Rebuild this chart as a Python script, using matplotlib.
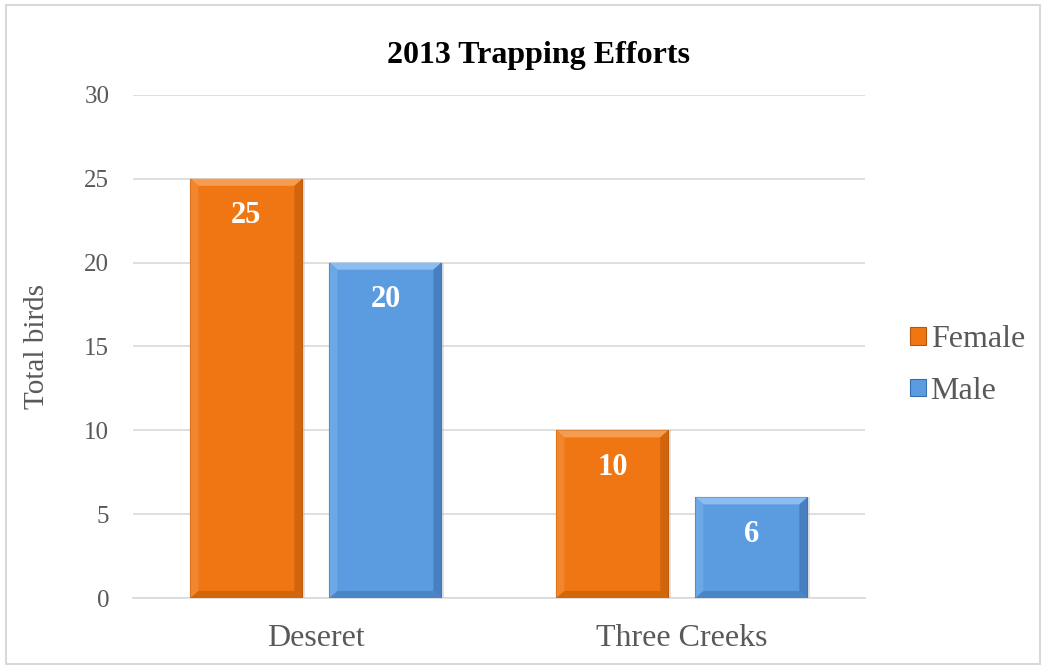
import matplotlib.pyplot as plt
import numpy as np
from matplotlib.patches import Rectangle, Polygon

# Birds trapped per site, split by sex
sites = ["Deseret", "Three Creeks"]
female = [25, 10]
male = [20, 6]
y_ticks = [0, 5, 10, 15, 20, 25, 30]

plt.rcParams["font.family"] = ["Liberation Serif", "DejaVu Serif"]

GRAY = "#595959"
# face, top bevel, left bevel, right bevel, bottom bevel, outline
ORANGE = ("#F07613", "#F59C50", "#F2862E", "#D0650D", "#D26609", "#B85508")
BLUE = ("#5B9BE0", "#8BBDF0", "#6CA7E6", "#477FC0", "#4A85C8", "#3A6FAE")


def bevel_bar(ax, xc, h, w, colors, bx=0.022, by=0.42):
    """Bar with a simple bevelled look built from its own geometry."""
    face, top, left, right, bottom, edge = colors
    x0, x1 = xc - w / 2, xc + w / 2
    ax.add_patch(Rectangle((x0 + 0.006, 0), w, h, facecolor="#BFBFBF", alpha=0.45,
                           linewidth=0, zorder=2))
    ax.add_patch(Rectangle((x0, 0), w, h, facecolor=face, edgecolor=edge,
                           linewidth=0.8, zorder=3))
    pieces = [
        ([(x0, h), (x1, h), (x1 - bx, h - by), (x0 + bx, h - by)], top),
        ([(x0, 0), (x0, h), (x0 + bx, h - by), (x0 + bx, by)], left),
        ([(x1, 0), (x1, h), (x1 - bx, h - by), (x1 - bx, by)], right),
        ([(x0, 0), (x1, 0), (x1 - bx, by), (x0 + bx, by)], bottom),
    ]
    for pts, c in pieces:
        ax.add_patch(Polygon(pts, closed=True, facecolor=c, linewidth=0, zorder=4))


def main():
    fig = plt.figure(figsize=(10.42, 6.66), dpi=100)
    ax = fig.add_axes([0.1276, 0.1021, 0.7024, 0.7553])

    # chart border
    fig.patches.append(Rectangle((0.006, 0.003), 0.992, 0.990, transform=fig.transFigure,
                                 fill=False, edgecolor="#D9D9D9", linewidth=1.5))

    x = np.arange(len(sites))
    width = 0.306
    offset = 0.19

    for xi, v in zip(x, female):
        bevel_bar(ax, xi - offset, v, width, ORANGE)
    for xi, v in zip(x, male):
        bevel_bar(ax, xi + offset, v, width, BLUE)

    for sign, vals in ((-1, female), (1, male)):
        for xi, v in zip(x, vals):
            ax.text(xi + sign * offset, v - 2.2, str(v),
                    ha="center", va="center", color="white", fontsize=22,
                    fontweight="bold", zorder=5)

    ax.set_xlim(-0.5, 1.5)
    ax.set_ylim(0, 30)
    ax.set_yticks(y_ticks)
    ax.set_xticks(x)
    ax.set_xticklabels(sites)
    ax.tick_params(axis="both", length=0, labelcolor=GRAY)
    ax.tick_params(axis="y", labelsize=18, pad=17)
    ax.tick_params(axis="x", labelsize=23, pad=19)
    ax.yaxis.grid(True, color="#D9D9D9", linewidth=1.2, zorder=0)
    ax.set_axisbelow(True)
    for side in ("top", "right", "left"):
        ax.spines[side].set_visible(False)
    ax.spines["bottom"].set_color("#D9D9D9")
    ax.spines["bottom"].set_linewidth(1.2)

    ax.set_ylabel("Total birds", fontsize=21, color=GRAY, labelpad=25)
    ax.set_title("2013 Trapping Efforts", fontsize=23, fontweight="bold", pad=23, x=0.554)

    handles = [Rectangle((0, 0), 1, 1, facecolor=ORANGE[0], edgecolor=ORANGE[5], linewidth=0.8),
               Rectangle((0, 0), 1, 1, facecolor=BLUE[0], edgecolor=BLUE[5], linewidth=0.8)]
    ax.legend(handles, ["Female", "Male"], loc="center left",
              bbox_to_anchor=(1.044, 0.462), frameon=False,
              fontsize=23, labelcolor=GRAY, handlelength=0.5, handleheight=0.45,
              handletextpad=0.15, labelspacing=0.7, borderaxespad=0)

    fig.savefig("out.png", dpi=100)


if __name__ == "__main__":
    main()
